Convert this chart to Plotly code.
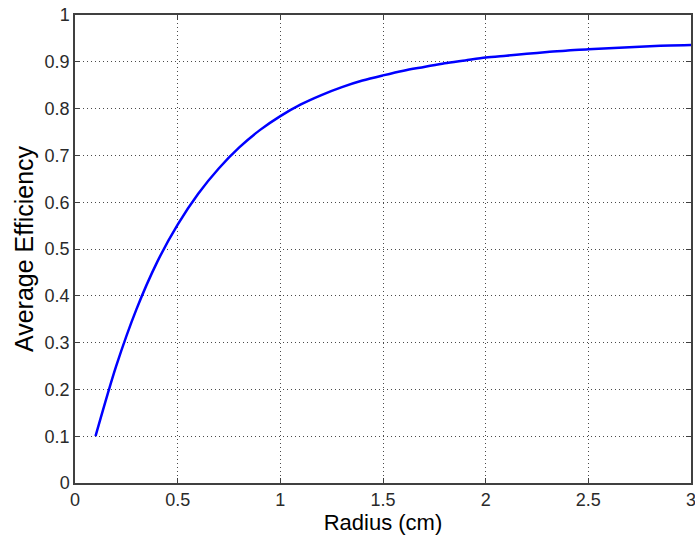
import plotly.graph_objects as go

# Average efficiency as a function of radius
radius_cm = [0.1, 0.2, 0.3, 0.4, 0.5, 0.6, 0.7, 0.8, 0.9, 1.0,
             1.1, 1.2, 1.3, 1.4, 1.5, 1.6, 1.7, 1.8, 1.9, 2.0,
             2.1, 2.2, 2.3, 2.4, 2.5, 2.6, 2.7, 2.8, 2.9, 3.0]
avg_efficiency = [0.100, 0.249, 0.372, 0.472, 0.552, 0.618, 0.672, 0.717, 0.754, 0.784,
                  0.809, 0.829, 0.846, 0.860, 0.871, 0.881, 0.889, 0.897, 0.903, 0.909,
                  0.913, 0.917, 0.921, 0.924, 0.927, 0.929, 0.931, 0.933, 0.935, 0.936]

x_ticks = [0, 0.5, 1, 1.5, 2, 2.5, 3]
x_tick_text = ["0", "0.5", "1", "1.5", "2", "2.5", "3"]
y_ticks = [0, 0.1, 0.2, 0.3, 0.4, 0.5, 0.6, 0.7, 0.8, 0.9, 1]
y_tick_text = ["0", "0.1", "0.2", "0.3", "0.4", "0.5", "0.6", "0.7", "0.8", "0.9", "1"]

FONT = "Liberation Sans, Arial, sans-serif"
FRAME = "#404040"

fig = go.Figure()
fig.add_trace(go.Scatter(
    x=radius_cm, y=avg_efficiency, mode="lines",
    line=dict(color="#0000ff", width=2.5, shape="spline", smoothing=0.8),
    showlegend=False,
))

axis_common = dict(
    showline=True, linecolor=FRAME, linewidth=1.5, mirror="ticks",
    ticks="inside", ticklen=5, tickcolor=FRAME, tickwidth=1.2,
    showgrid=True, gridcolor="#4a4a4a", griddash="1px,3px", gridwidth=1,
    zeroline=False, automargin=False, ticklabeloverflow="allow",
    tickfont=dict(family=FONT, size=18, color="#2a2a2a"),
)

fig.update_xaxes(
    range=[0, 3], tickvals=x_ticks, ticktext=x_tick_text,
    title=dict(text="Radius (cm)", font=dict(family=FONT, size=22, color="#000000"), standoff=4),
    **axis_common,
)
fig.update_yaxes(
    range=[0, 1], tickvals=y_ticks, ticktext=y_tick_text,
    title=dict(text="Average Efficiency", font=dict(family=FONT, size=25, color="#000000"), standoff=4),
    **axis_common,
)

fig.update_layout(
    width=695, height=539,
    margin=dict(l=75, r=4, t=15, b=56),
    paper_bgcolor="white", plot_bgcolor="white",
)

fig.write_html("out.html")
